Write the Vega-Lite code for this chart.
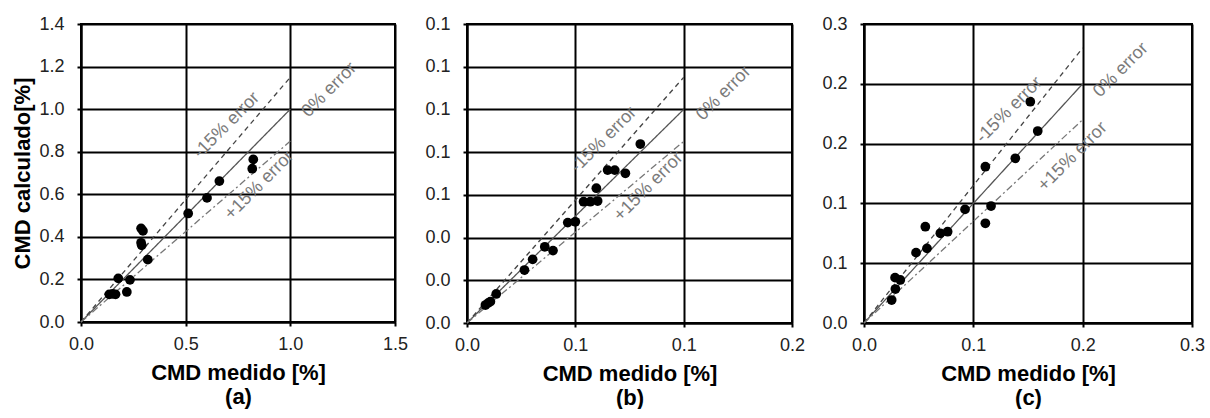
{
  "$schema": "https://vega.github.io/schema/vega-lite/v6.json",
  "background": "white",
  "padding": {"left": 10, "top": 14, "right": 0, "bottom": 0},
  "bounds": "flush",
  "spacing": 72,
  "datasets": {
    "pa": [
      {"x": 0.135, "y": 0.130}, {"x": 0.151, "y": 0.132}, {"x": 0.165, "y": 0.130},
      {"x": 0.178, "y": 0.205}, {"x": 0.219, "y": 0.141}, {"x": 0.234, "y": 0.198},
      {"x": 0.287, "y": 0.440}, {"x": 0.296, "y": 0.428}, {"x": 0.287, "y": 0.372},
      {"x": 0.290, "y": 0.360}, {"x": 0.319, "y": 0.293}, {"x": 0.512, "y": 0.510},
      {"x": 0.602, "y": 0.583}, {"x": 0.661, "y": 0.662}, {"x": 0.823, "y": 0.764},
      {"x": 0.818, "y": 0.720}
    ],
    "pb": [
      {"x": 0.0085, "y": 0.0084}, {"x": 0.0097, "y": 0.0093}, {"x": 0.0108, "y": 0.0100},
      {"x": 0.0135, "y": 0.0136}, {"x": 0.0265, "y": 0.0248}, {"x": 0.0303, "y": 0.0298},
      {"x": 0.0359, "y": 0.0357}, {"x": 0.0397, "y": 0.0339}, {"x": 0.0465, "y": 0.0470},
      {"x": 0.0500, "y": 0.0474}, {"x": 0.0538, "y": 0.0568}, {"x": 0.0569, "y": 0.0568},
      {"x": 0.0603, "y": 0.0571}, {"x": 0.0597, "y": 0.0631}, {"x": 0.0649, "y": 0.0716},
      {"x": 0.0682, "y": 0.0716}, {"x": 0.0731, "y": 0.0701}, {"x": 0.0800, "y": 0.0838}
    ],
    "pc": [
      {"x": 0.0253, "y": 0.0192}, {"x": 0.0287, "y": 0.0284}, {"x": 0.0284, "y": 0.0379},
      {"x": 0.0332, "y": 0.0360}, {"x": 0.0476, "y": 0.0588}, {"x": 0.0561, "y": 0.0805},
      {"x": 0.0576, "y": 0.0624}, {"x": 0.0698, "y": 0.0750}, {"x": 0.0765, "y": 0.0763},
      {"x": 0.0924, "y": 0.0950}, {"x": 0.1110, "y": 0.1307}, {"x": 0.1110, "y": 0.0834},
      {"x": 0.1162, "y": 0.0978}, {"x": 0.1384, "y": 0.1377}, {"x": 0.1521, "y": 0.1850},
      {"x": 0.1589, "y": 0.1605}
    ],
    "la": [
      {"s": "0%", "x": 0, "y": 0}, {"s": "0%", "x": 1.0, "y": 1.0},
      {"s": "-15%", "x": 0, "y": 0}, {"s": "-15%", "x": 1.0, "y": 1.15},
      {"s": "+15%", "x": 0, "y": 0}, {"s": "+15%", "x": 1.0, "y": 0.85}
    ],
    "lb": [
      {"s": "0%", "x": 0, "y": 0}, {"s": "0%", "x": 0.1, "y": 0.1},
      {"s": "-15%", "x": 0, "y": 0}, {"s": "-15%", "x": 0.1, "y": 0.115},
      {"s": "+15%", "x": 0, "y": 0}, {"s": "+15%", "x": 0.1, "y": 0.085}
    ],
    "lc": [
      {"s": "0%", "x": 0, "y": 0}, {"s": "0%", "x": 0.2, "y": 0.2},
      {"s": "-15%", "x": 0, "y": 0}, {"s": "-15%", "x": 0.2, "y": 0.23},
      {"s": "+15%", "x": 0, "y": 0}, {"s": "+15%", "x": 0.2, "y": 0.17}
    ],
    "ta": [
      {"t": "0% error", "x": 1.186, "y": 1.09},
      {"t": "-15% error", "x": 0.696, "y": 0.924},
      {"t": "+15% error", "x": 0.852, "y": 0.642}
    ],
    "tb": [
      {"t": "0% error", "x": 0.1185, "y": 0.1076},
      {"t": "-15% error", "x": 0.0631, "y": 0.0857},
      {"t": "+15% error", "x": 0.0838, "y": 0.0638}
    ],
    "tc": [
      {"t": "0% error", "x": 0.235, "y": 0.2115},
      {"t": "-15% error", "x": 0.1329, "y": 0.178},
      {"t": "+15% error", "x": 0.1909, "y": 0.139}
    ]
  },
  "hconcat": [
    {
      "width": 314, "height": 298,
      "encoding": {
        "x": {"field": "x", "type": "quantitative",
              "scale": {"domain": [0, 1.5], "nice": false, "zero": false},
              "axis": {"values": [0, 0.5, 1.0, 1.5], "title": ["CMD medido [%]", "(a)"]}},
        "y": {"field": "y", "type": "quantitative",
              "scale": {"domain": [0, 1.4], "nice": false, "zero": false},
              "axis": {"values": [0, 0.2, 0.4, 0.6, 0.8, 1.0, 1.2, 1.4], "title": "CMD calculado[%]"}}
      },
      "layer": [
        {"data": {"name": "la"}, "mark": {"type": "line", "strokeWidth": 1.3},
         "encoding": {"detail": {"field": "s"},
                      "color": {"field": "s", "type": "nominal", "scale": {"domain": ["0%", "-15%", "+15%"], "range": ["#555555", "#444444", "#777777"]}, "legend": null},
                      "strokeDash": {"field": "s", "type": "nominal", "scale": {"domain": ["0%", "-15%", "+15%"], "range": [[1, 0], [5, 4], [7, 3, 2, 3]]}, "legend": null}}},
        {"data": {"name": "pa"}, "mark": {"type": "circle", "size": 95, "color": "black", "opacity": 1}},
        {"data": {"name": "ta"}, "mark": {"type": "text", "angle": -45, "font": "Liberation Sans", "fontSize": 18, "color": "#7a7a7a", "align": "center", "baseline": "middle"},
         "encoding": {"text": {"field": "t"}}}
      ]
    },
    {
      "width": 325, "height": 299,
      "encoding": {
        "x": {"field": "x", "type": "quantitative",
              "scale": {"domain": [0, 0.15], "nice": false, "zero": false},
              "axis": {"values": [0, 0.05, 0.1, 0.15], "title": ["CMD medido [%]", "(b)"]}},
        "y": {"field": "y", "type": "quantitative",
              "scale": {"domain": [0, 0.14], "nice": false, "zero": false},
              "axis": {"values": [0, 0.02, 0.04, 0.06, 0.08, 0.1, 0.12, 0.14], "title": null}}
      },
      "layer": [
        {"data": {"name": "lb"}, "mark": {"type": "line", "strokeWidth": 1.3},
         "encoding": {"detail": {"field": "s"},
                      "color": {"field": "s", "type": "nominal", "scale": {"domain": ["0%", "-15%", "+15%"], "range": ["#555555", "#444444", "#777777"]}, "legend": null},
                      "strokeDash": {"field": "s", "type": "nominal", "scale": {"domain": ["0%", "-15%", "+15%"], "range": [[1, 0], [5, 4], [7, 3, 2, 3]]}, "legend": null}}},
        {"data": {"name": "pb"}, "mark": {"type": "circle", "size": 95, "color": "black", "opacity": 1}},
        {"data": {"name": "tb"}, "mark": {"type": "text", "angle": -45, "font": "Liberation Sans", "fontSize": 18, "color": "#7a7a7a", "align": "center", "baseline": "middle"},
         "encoding": {"text": {"field": "t"}}}
      ]
    },
    {
      "width": 328, "height": 299,
      "encoding": {
        "x": {"field": "x", "type": "quantitative",
              "scale": {"domain": [0, 0.3], "nice": false, "zero": false},
              "axis": {"values": [0, 0.1, 0.2, 0.3], "title": ["CMD medido [%]", "(c)"]}},
        "y": {"field": "y", "type": "quantitative",
              "scale": {"domain": [0, 0.25], "nice": false, "zero": false},
              "axis": {"values": [0, 0.05, 0.1, 0.15, 0.2, 0.25], "title": null}}
      },
      "layer": [
        {"data": {"name": "lc"}, "mark": {"type": "line", "strokeWidth": 1.3},
         "encoding": {"detail": {"field": "s"},
                      "color": {"field": "s", "type": "nominal", "scale": {"domain": ["0%", "-15%", "+15%"], "range": ["#555555", "#444444", "#777777"]}, "legend": null},
                      "strokeDash": {"field": "s", "type": "nominal", "scale": {"domain": ["0%", "-15%", "+15%"], "range": [[1, 0], [5, 4], [7, 3, 2, 3]]}, "legend": null}}},
        {"data": {"name": "pc"}, "mark": {"type": "circle", "size": 95, "color": "black", "opacity": 1}},
        {"data": {"name": "tc"}, "mark": {"type": "text", "angle": -45, "font": "Liberation Sans", "fontSize": 18, "color": "#7a7a7a", "align": "center", "baseline": "middle"},
         "encoding": {"text": {"field": "t"}}}
      ]
    }
  ],
  "config": {
    "view": {"stroke": "black", "strokeWidth": 2},
    "axis": {
      "grid": true, "gridColor": "black", "gridWidth": 2, "gridOpacity": 1,
      "domainColor": "black", "domainWidth": 2,
      "ticks": true, "tickColor": "black", "tickWidth": 2, "tickSize": 4,
      "labelFont": "Liberation Sans", "labelFontSize": 18, "labelColor": "#222222",
      "labelFlush": false, "labelOverlap": false,
      "labelExpr": "format(round(datum.value*10+1e-9)/10, '.1f')",
      "titleFont": "Liberation Sans", "titleFontSize": 22, "titleFontWeight": "bold", "titleColor": "black"
    },
    "axisX": {"labelPadding": 9, "titlePadding": 9, "titleLineHeight": 24},
    "axisY": {"labelPadding": 13, "titlePadding": 4}
  }
}
